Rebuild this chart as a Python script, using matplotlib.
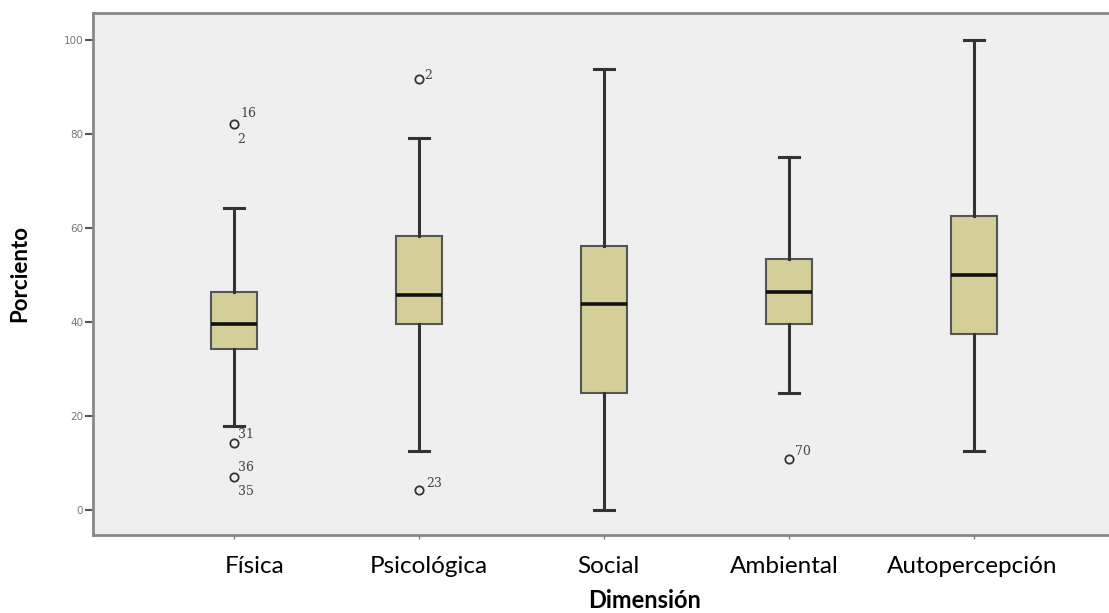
import matplotlib
matplotlib.use("Agg")
import matplotlib.pyplot as plt
from matplotlib.transforms import offset_copy, ScaledTranslation

# datos (porcentaje)
dimensiones = ["Física", "Psicológica", "Social", "Ambiental", "Autopercepción"]
q1 = [34.3, 39.6, 25.0, 39.6, 37.5]
mediana = [39.6, 45.8, 43.75, 46.4, 50.0]
q3 = [46.4, 58.3, 56.25, 53.4, 62.5]
bigote_inf = [17.9, 12.5, 0.0, 25.0, 12.5]
bigote_sup = [64.3, 79.2, 93.75, 75.0, 100.0]
atipicos = [[82.1, 14.3, 7.1], [91.7, 4.3], [], [10.8], []]
# etiquetas de casos atipicos: (dimension, valor, texto, dx, dy)
casos = [
    (0, 82.1, "16", 14, 10),
    (0, 82.1, "2", 7, -16),
    (0, 14.3, "31", 12, 8),
    (0, 7.1, "36", 12, 9),
    (0, 7.1, "35", 12, -15),
    (1, 91.7, "2", 9, 3),
    (1, 4.3, "23", 15, 6),
    (3, 10.8, "70", 14, 8),
]

fill_col = "#d4cf98"
bg_col = "#efefef"

fig = plt.figure(figsize=(11.09, 6.13), dpi=100)
ax = fig.add_axes([93 / 1109, 1 - 535 / 613, 1 - 93 / 1109, (535 - 13) / 613])
ax.set_facecolor(bg_col)

stats = []
for i in range(len(dimensiones)):
    stats.append({
        "q1": q1[i], "med": mediana[i], "q3": q3[i],
        "whislo": bigote_inf[i], "whishi": bigote_sup[i],
        "fliers": atipicos[i], "label": dimensiones[i],
    })

pos = list(range(1, len(dimensiones) + 1))
ax.bxp(stats, positions=pos, widths=0.25, patch_artist=True,
       boxprops=dict(facecolor=fill_col, edgecolor="#555555", linewidth=1.5),
       medianprops=dict(color="#111111", linewidth=2.6),
       whiskerprops=dict(color="#333333", linewidth=2.2),
       capprops=dict(color="#333333", linewidth=2.2),
       capwidths=0.11,
       flierprops=dict(marker="o", markersize=6, markerfacecolor="none",
                       markeredgecolor="#333333", markeredgewidth=1.3))

for i, val, txt, dx, dy in casos:
    tr = offset_copy(ax.transData, fig=fig, x=dx, y=dy, units="dots")
    ax.text(pos[i], val, txt, transform=tr, fontsize=9, color="#444444",
            family="DejaVu Serif", ha="center", va="center")

ax.set_xlim(0.238, 5.73)
ax.set_ylim(-5.3, 105.7)
ax.set_yticks([0, 20, 40, 60, 80, 100])
ax.set_yticklabels(["0", "20", "40", "60", "80", "100"])
ax.tick_params(axis="y", length=6, width=1.5, color="#555555", labelsize=7.5,
               labelcolor="#777777", pad=1)
ax.tick_params(axis="x", length=3, width=1, color="#777777", labelsize=17.5,
               pad=12)
ax.set_xticks(pos)
ax.set_xticklabels(dimensiones, family="Lato")

# desplazamiento horizontal de las etiquetas como en la imagen original
shift = [21, 10, 4, -5, -2]
for lab, dx in zip(ax.get_xticklabels(), shift):
    lab.set_transform(lab.get_transform() + ScaledTranslation(dx / 100, 0, fig.dpi_scale_trans))

for s in ["left", "bottom", "top"]:
    ax.spines[s].set_color("#888888")
    ax.spines[s].set_linewidth(2)
ax.spines["right"].set_visible(False)

ax.set_ylabel("Porciento", fontsize=16, fontweight="bold", family="Lato")
ax.yaxis.set_label_coords(-0.062, 0.5)
ax.set_xlabel("Dimensión", fontsize=17, fontweight="bold", family="Lato")
ax.xaxis.set_label_coords((645 - 93) / 1016, -0.103)

fig.savefig("out.png", dpi=100, facecolor="white")
